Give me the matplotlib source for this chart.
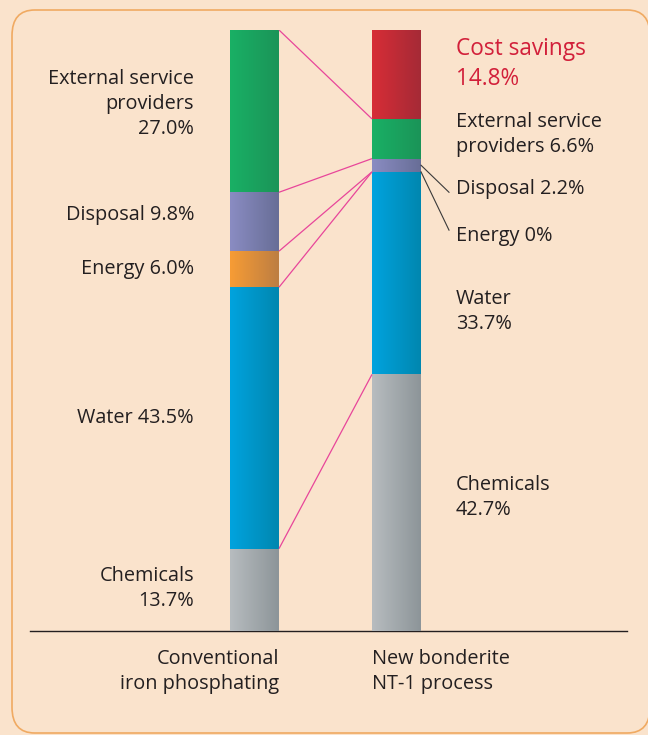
import numpy as np
import matplotlib
matplotlib.use("Agg")
import matplotlib.pyplot as plt
from matplotlib.colors import LinearSegmentedColormap
from matplotlib.patches import FancyBboxPatch

plt.rcParams['font.family'] = ['Open Sans', 'DejaVu Sans']

# data (percent of total cost)
processes = ["Conventional\niron phosphating", "New bonderite\nNT-1 process"]
segments = ["Chemicals", "Water", "Energy", "Disposal", "External service providers", "Cost savings"]
conventional = [13.7, 43.5, 6.0, 9.8, 27.0, 0.0]
bonderite = [42.7, 33.7, 0.0, 2.2, 6.6, 14.8]

left_labels = ["Chemicals\n13.7%", "Water 43.5%", "Energy 6.0%", "Disposal 9.8%",
               "External service\nproviders\n27.0%"]
right_labels = ["Chemicals\n42.7%", "Water\n33.7%", "Energy 0%", "Disposal 2.2%",
                "External service\nproviders 6.6%", "Cost savings\n14.8%"]

# layout: label heights (in % units), chosen to match the original
left_label_y = [7.1, 35.4, 60.2, 69.2, 87.7]
right_label_y = [22.2, 53.2, 65.7, 73.5, 82.6, 94.4]

# gradient colours (left edge, right edge)
grad = {
    "Chemicals": ("#b7bcbf", "#8d9599"),
    "Water": ("#00a3de", "#0087b0"),
    "Energy": ("#f79c35", "#bd7e42"),
    "Disposal": ("#8a8cc2", "#686e97"),
    "External service providers": ("#19b065", "#1b9458"),
    "Cost savings": ("#d72d36", "#a52a36"),
}
bg = "#fae3cc"
txt = "#231f20"
pink = "#e8469a"

W, H = 648, 735
fig = plt.figure(figsize=(W / 100, H / 100), dpi=100, facecolor=bg)

# rounded frame (pixels: left 12, top 10, bottom 733, runs off the right edge)
frame = FancyBboxPatch((12 / W, 2 / H), 638 / W, 723 / H,
                       boxstyle="round,pad=0,rounding_size=0.035",
                       transform=fig.transFigure, facecolor=bg,
                       edgecolor="#f0aa62", linewidth=1.2, zorder=0)
fig.patches.append(frame)

# axes: x from px 30 to 627, y from px 631 (0%) to 30 (100%)
ax = fig.add_axes([30 / W, (H - 631) / H, (627 - 30) / W, 601 / H])
ax.set_zorder(2)
ax.set_facecolor("none")
scale = 142.0
width = 49 / scale

for i, vals in enumerate([conventional, bonderite]):
    bottoms = np.concatenate([[0], np.cumsum(vals)[:-1]])
    for seg, v, b in zip(segments, vals, bottoms):
        if v <= 0:
            continue
        bar = ax.bar(i, v, bottom=b, width=width, color=grad[seg][0],
                     linewidth=0, zorder=2)[0]
        cmap = LinearSegmentedColormap.from_list(seg, grad[seg])
        img = ax.imshow(np.linspace(0, 1, 64).reshape(1, -1), cmap=cmap,
                        extent=[i - width / 2, i + width / 2, b, b + v],
                        aspect="auto", zorder=3)
        img.set_clip_path(bar)

ax.set_xlim(-(254.5 - 30) / scale, 1 + (627 - 396.5) / scale)
ax.set_ylim(0, 100)

# pink connectors between matching segment tops
top_l = np.cumsum(conventional)
top_r = np.cumsum(bonderite)
for k in range(len(segments) - 1):
    ax.plot([width / 2, 1 - width / 2], [top_l[k], top_r[k]], color=pink,
            linewidth=0.9, zorder=4, solid_capstyle="butt")

# labels
fs = 14.3
ls = 1.32
lx = -(254.5 - 194) / scale
for lab, y in zip(left_labels, left_label_y):
    ax.text(lx, y, lab, ha="right", va="center", fontsize=fs, color=txt,
            linespacing=ls)
rx = 1 + (456 - 396.5) / scale
for seg, lab, y in zip(segments, right_labels, right_label_y):
    if seg == "Cost savings":
        ax.text(rx, y, lab, ha="left", va="center", fontsize=16.3,
                color="#d2203a", linespacing=1.33)
    else:
        ax.text(rx, y, lab, ha="left", va="center", fontsize=fs, color=txt,
                linespacing=ls)

# leader lines for the thin right-hand segments
bot_r = top_r - np.array(bonderite)
lead_end = 1 + (449 - 396.5) / scale
ax.plot([1 + width / 2, lead_end], [bot_r[3] + bonderite[3] / 2, right_label_y[3] - 0.5],
        color="#3a3a3a", linewidth=0.8, zorder=4)
ax.plot([1 + width / 2, lead_end], [top_r[2], right_label_y[2] + 1.0],
        color="#3a3a3a", linewidth=0.8, zorder=4)

# axis styling
for s in ["top", "right", "left"]:
    ax.spines[s].set_visible(False)
ax.spines["bottom"].set_color(txt)
ax.spines["bottom"].set_linewidth(1.0)
ax.set_yticks([])
ax.set_xticks([])

ax.text(width / 2, -3.0, processes[0], ha="right", va="top", fontsize=fs,
        color=txt, linespacing=1.36)
ax.text(1 - width / 2, -3.0, processes[1], ha="left", va="top", fontsize=fs,
        color=txt, linespacing=1.36)

fig.savefig("out.png", dpi=100, facecolor=bg)
